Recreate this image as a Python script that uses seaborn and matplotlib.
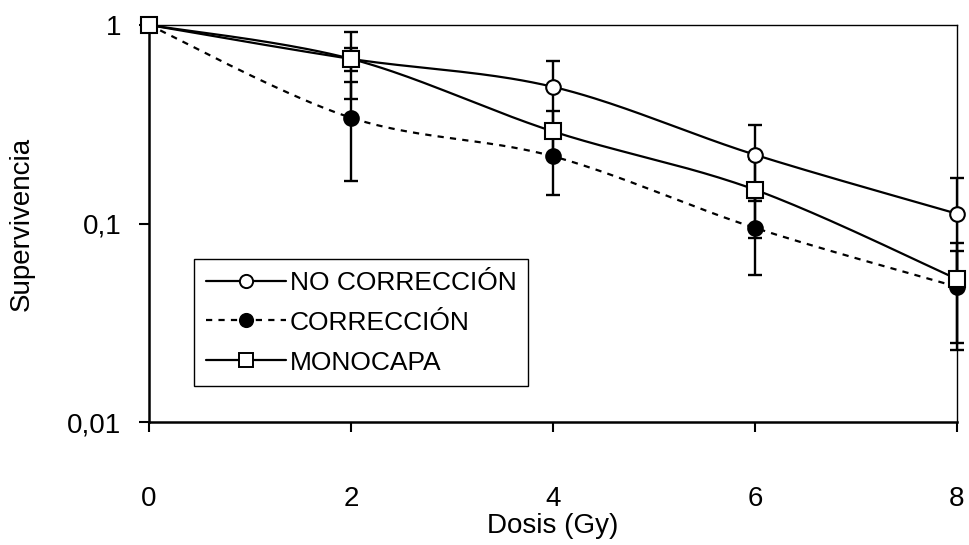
import numpy as np
import pandas as pd
import matplotlib
matplotlib.use("Agg")
import matplotlib.pyplot as plt
from matplotlib.lines import Line2D
import seaborn as sns

# Dose (Gy) and surviving fraction for each condition
dosis = [0, 2, 4, 6, 8]
no_correccion = [1.0, 0.675, 0.488, 0.222, 0.112]
no_correccion_err = [0.0, 0.25, 0.174, 0.092, 0.058]
correccion = [1.0, 0.341, 0.218, 0.095, 0.048]
correccion_err = [0.0, 0.177, 0.079, 0.040, 0.025]
monocapa = [1.0, 0.675, 0.291, 0.148, 0.0525]
monocapa_err = [0.0, 0.088, 0.076, 0.063, 0.0275]

series_names = ["NO CORRECCIÓN", "CORRECCIÓN", "MONOCAPA"]
x_ticks = [0, 2, 4, 6, 8]
y_ticks = [0.01, 0.1, 1]
y_tick_labels = ["0,01", "0,1", "1"]


def smooth_curve(x, y, n=40):
    """Catmull-Rom style Bezier smoothing done in (x, log10 y) space."""
    px = np.asarray(x, float)
    py = np.log10(np.asarray(y, float))
    P = np.column_stack([px, py])
    pts = []
    for i in range(len(P) - 1):
        p0 = P[i - 1] if i > 0 else P[i]
        p1, p2 = P[i], P[i + 1]
        p3 = P[i + 2] if i + 2 < len(P) else P[i + 1]
        c1 = p1 + (p2 - p0) / 6.0
        c2 = p2 - (p3 - p1) / 6.0
        t = np.linspace(0, 1, n)[:, None]
        seg = ((1 - t) ** 3) * p1 + 3 * ((1 - t) ** 2) * t * c1 \
            + 3 * (1 - t) * (t ** 2) * c2 + (t ** 3) * p2
        pts.append(seg if i == 0 else seg[1:])
    pts = np.vstack(pts)
    return pts[:, 0], 10 ** pts[:, 1]


sns.set_theme(style="white")
plt.rcParams["font.family"] = ["Liberation Sans", "DejaVu Sans"]
plt.rcParams["text.color"] = "black"
plt.rcParams["axes.labelcolor"] = "black"
plt.rcParams["xtick.color"] = "black"
plt.rcParams["ytick.color"] = "black"
FS = 20
LEG_FS = 19
plt.rcParams["font.size"] = FS

fig = plt.figure(figsize=(9.7, 5.45), dpi=100)
ax = fig.add_axes([149 / 970, 1 - 422 / 545, 808 / 970, 397 / 545])

dash = (0, (2.8, 2.8))
styles = [
    dict(values=no_correccion, err=no_correccion_err, ls="-", marker="o", mfc="white"),
    dict(values=correccion, err=correccion_err, ls=dash, marker="o", mfc="black"),
    dict(values=monocapa, err=monocapa_err, ls="-", marker="s", mfc="white"),
]

lw = 1.6
# smoothed connecting curves
for name, st in zip(series_names, styles):
    cx, cy = smooth_curve(dosis, st["values"])
    df = pd.DataFrame({"x": cx, "y": cy})
    sns.lineplot(data=df, x="x", y="y", sort=False, ax=ax, color="black",
                 linewidth=lw, linestyle=st["ls"], zorder=2, clip_on=False)

# error bars
for st in styles:
    eb = ax.errorbar(dosis, st["values"], yerr=st["err"], fmt="none",
                     ecolor="black", elinewidth=1.7, capsize=5.3,
                     capthick=1.7, zorder=3)
    for part in list(eb.lines[1]) + list(eb.lines[2]):
        part.set_clip_on(False)

# markers on top
for i, st in enumerate(styles):
    ax.plot(dosis, st["values"], linestyle="none", marker=st["marker"],
            markersize=10.5 if st["marker"] == "o" else 11,
            markerfacecolor=st["mfc"], markeredgecolor="black",
            markeredgewidth=1.5, zorder=5 + i, clip_on=False)

ax.set_yscale("log")
ax.set_ylim(0.01, 1)
ax.set_xlim(0, 8)
ax.set_xticks(x_ticks)
ax.set_xticklabels([str(v) for v in x_ticks])
ax.set_yticks(y_ticks)
ax.set_yticklabels(y_tick_labels)
ax.yaxis.set_minor_locator(matplotlib.ticker.NullLocator())

ax.tick_params(axis="both", which="major", direction="out", length=7,
               width=1.5, color="black", labelsize=FS, labelcolor="black",
               bottom=True, left=True, top=False, right=False)
ax.tick_params(axis="y", pad=13)
ax.tick_params(axis="x", pad=39)

for side in ["left", "bottom"]:
    ax.spines[side].set_linewidth(1.8)
    ax.spines[side].set_color("black")
for side in ["top", "right"]:
    ax.spines[side].set_linewidth(1.0)
    ax.spines[side].set_color("black")
ax.spines["top"].set_visible(True)
ax.spines["right"].set_visible(True)

ax.set_xlabel("Dosis (Gy)", fontsize=FS, color="black", labelpad=1)
ax.set_ylabel("Supervivencia", fontsize=FS, color="black", labelpad=23)

handles = [
    Line2D([], [], color="black", lw=lw, linestyle=st["ls"], marker=st["marker"],
           markersize=9.5, markerfacecolor=st["mfc"], markeredgecolor="black",
           markeredgewidth=1.4)
    for st in styles
]
leg = ax.legend(handles, series_names, loc="upper left",
                bbox_to_anchor=((194 - 149) / 808, (422 - 259) / 397),
                borderaxespad=0, frameon=True, fancybox=False, shadow=False,
                handlelength=3.05, handletextpad=0.12, labelspacing=0.6,
                borderpad=0.45, fontsize=LEG_FS)
leg.get_frame().set_edgecolor("black")
leg.get_frame().set_linewidth(1.0)
leg.get_frame().set_facecolor("white")
leg.get_frame().set_alpha(1)
leg.set_zorder(10)
for t in leg.get_texts():
    t.set_color("black")

fig.savefig("out.png", dpi=100, facecolor="white")
